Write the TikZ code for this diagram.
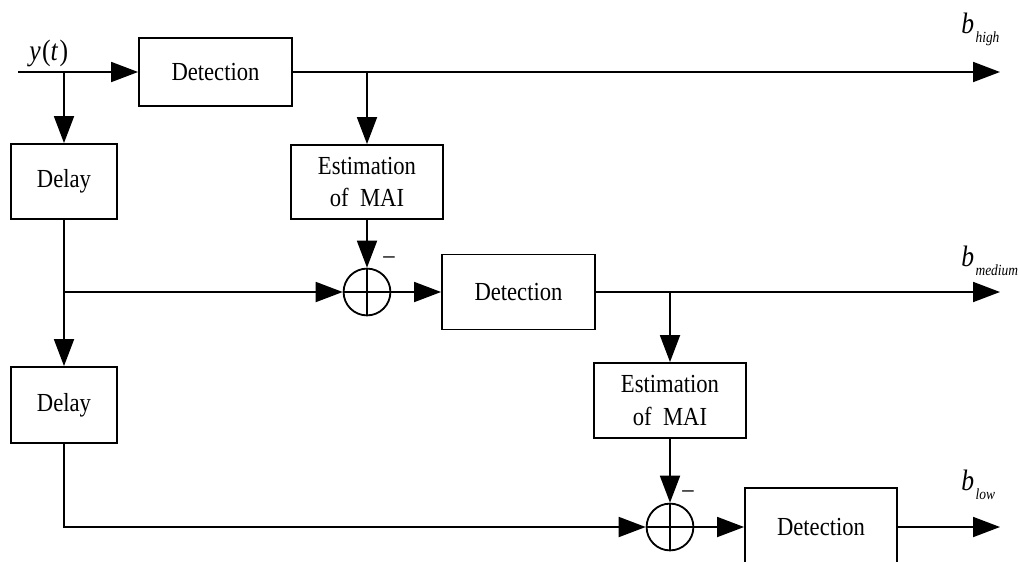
\documentclass[tikz,border=0pt]{standalone}
\usepackage{fontspec}
\setmainfont{Liberation Serif}[FakeStretch=0.87]
\usetikzlibrary{arrows.meta,positioning,calc}

\begin{document}
\begin{tikzpicture}[x=0.025cm,y=-0.025cm,
  blk/.style={draw, line width=1.3pt, font=\fontsize{18.5}{22.8}\selectfont, align=center, inner sep=0pt},
  sumnode/.style={draw, circle, line width=1.3pt, minimum size=1.17cm, inner sep=0pt,
    path picture={\draw[line width=1.3pt] (path picture bounding box.north) -- (path picture bounding box.south)
      (path picture bounding box.west) -- (path picture bounding box.east);}},
  arr/.style={line width=1.3pt, -{Triangle[length=0.675cm,width=0.5cm]}},
  outlbl/.style={anchor=base west, inner sep=0pt, font=\fontsize{21}{22}\selectfont},
  minus/.style={inner sep=0pt, font=\fontsize{18.5}{18.5}\selectfont}]
  \useasboundingbox (0,0) rectangle (1019,561);
  \clip (0,0) rectangle (1019,561);

  % Stage 1
  \node[blk, minimum width=3.825cm, minimum height=1.7cm] (det1) at (215.5,72) {Detection};
  \node[blk, minimum width=2.65cm, minimum height=1.875cm] (delay1) at (64,181.5) {Delay};
  \node[blk, minimum width=3.8cm, minimum height=1.85cm] (est1) at (367,182) {Estimation\\of~~MAI};
  \node[sumnode] (sum1) at (367,292) {};
  \node[minus] at (389,260) {--};

  % Stage 2
  \node[blk, minimum width=3.825cm, minimum height=1.875cm] (det2) at (518.5,292) {Detection};
  \node[blk, minimum width=2.65cm, minimum height=1.9cm] (delay2) at (64,405) {Delay};
  \node[blk, minimum width=3.8cm, minimum height=1.875cm] (est2) at (670,400.5) {Estimation\\of~~MAI};
  \node[sumnode] (sum2) at (670,527) {};
  \node[minus] at (688,494) {--};

  % Stage 3
  \node[blk, minimum width=3.8cm, minimum height=1.95cm] (det3) at (821,527) {Detection};

  % Input and outputs
  \coordinate (in) at (18,72);
  \coordinate (out1) at (1000,72);
  \coordinate (out2) at (1000,292);
  \coordinate (out3) at (1000,527);
  \node[outlbl] at (29,60) {\textit{y}\kern1pt(\textit{t}\kern1pt)};
  \node[outlbl] at (961,33) {\textit{b}\kern1pt\raisebox{-7pt}{\fontsize{11}{11}\selectfont\itshape high}};
  \node[outlbl] at (961,266) {\textit{b}\kern1pt\raisebox{-7pt}{\fontsize{11}{11}\selectfont\itshape medium}};
  \node[outlbl] at (961,490) {\textit{b}\kern1pt\raisebox{-7pt}{\fontsize{11}{11}\selectfont\itshape low}};

  % Connectors
  \draw[arr] (in) -- (det1.west);
  \draw[arr] (in -| delay1) -- (delay1.north);
  \draw[arr] (det1.east) -- (out1);
  \draw[arr] (det1.east -| est1) -- (est1.north);
  \draw[arr] (est1.south) -- (sum1.north);
  \draw[arr] (delay1.south) -- (delay2.north);
  \draw[arr] (delay1.south |- sum1.west) -- (sum1.west);
  \draw[arr] (sum1.east) -- (det2.west);
  \draw[arr] (det2.east) -- (out2);
  \draw[arr] (det2.east -| est2) -- (est2.north);
  \draw[arr] (est2.south) -- (sum2.north);
  \draw[arr] (delay2.south) |- (sum2.west);
  \draw[arr] (sum2.east) -- (det3.west);
  \draw[arr] (det3.east) -- (out3);
\end{tikzpicture}
\end{document}
